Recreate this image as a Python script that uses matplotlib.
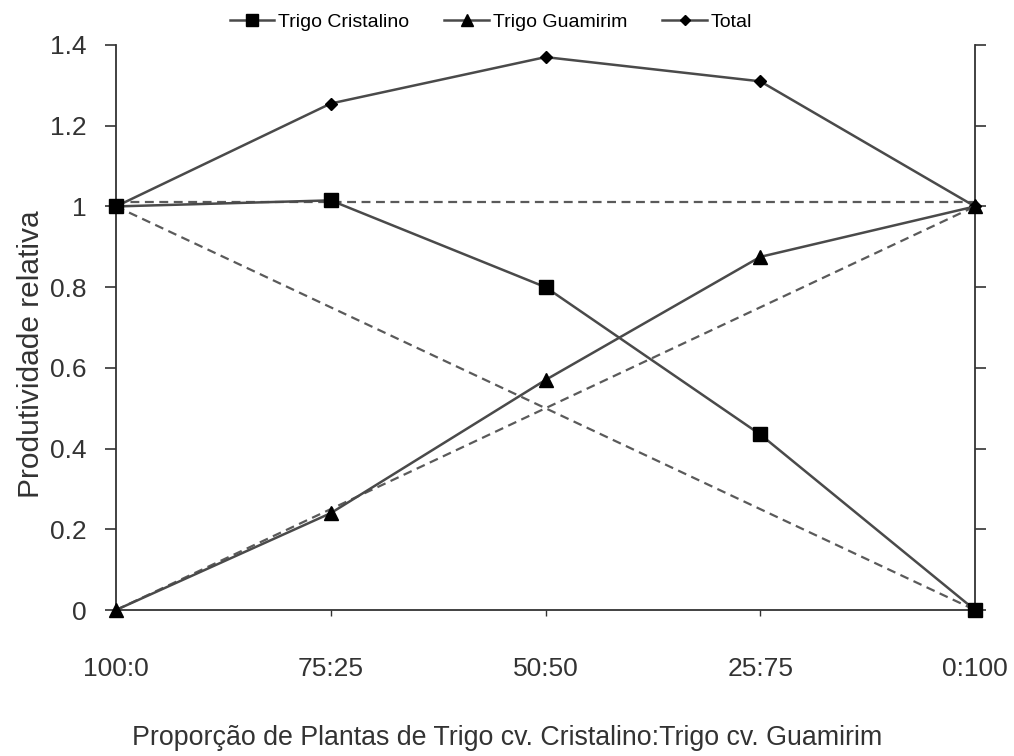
import numpy as np
import matplotlib.pyplot as plt
from matplotlib.ticker import FuncFormatter

plt.rcParams['font.family'] = ['Liberation Sans', 'DejaVu Sans']

# Data
proporcoes = ["100:0", "75:25", "50:50", "25:75", "0:100"]
cristalino = [1.0, 1.015, 0.80, 0.435, 0.0]
guamirim = [0.0, 0.24, 0.57, 0.875, 1.0]
total = [1.0, 1.255, 1.37, 1.31, 1.0]
# expected (no-interaction) reference lines
esperado_cristalino = [1.0, 0.75, 0.5, 0.25, 0.0]
esperado_guamirim = [0.0, 0.25, 0.5, 0.75, 1.0]
esperado_total = [1.01, 1.01, 1.01, 1.01, 1.01]

x = np.arange(len(proporcoes))
line_col = '#4a4a4a'
dash_col = '#5a5a5a'

fig = plt.figure(figsize=(10.14, 7.56), dpi=100)
ax = fig.add_axes([116 / 1014, 1 - 610 / 756, (975 - 116) / 1014, (610 - 45) / 756])

# dashed reference lines
for ref in (esperado_cristalino, esperado_guamirim, esperado_total):
    ax.plot(x, ref, linestyle=(0, (4, 2.5)), color=dash_col, linewidth=1.6, zorder=2)

l3, = ax.plot(x, total, '-D', color=line_col, mfc='black', mec='black',
              markersize=6.5, linewidth=1.8, label='Total', zorder=3, clip_on=False)
l2, = ax.plot(x, guamirim, '-^', color=line_col, mfc='black', mec='black',
              markersize=10, linewidth=1.8, label='Trigo Guamirim', zorder=4, clip_on=False)
l1, = ax.plot(x, cristalino, '-s', color=line_col, mfc='black', mec='black',
              markersize=10, linewidth=1.8, label='Trigo Cristalino', zorder=5, clip_on=False)

ax.set_xlim(0, 4)
ax.set_ylim(0, 1.4)
ax.set_xticks(x)
ax.set_xticklabels(proporcoes)
ax.set_yticks(np.arange(0, 1.41, 0.2))
ax.yaxis.set_major_formatter(FuncFormatter(lambda v, p: f"{v:g}"))

ax.spines['top'].set_visible(False)
for s in ('left', 'right', 'bottom'):
    ax.spines[s].set_color('#333333')
    ax.spines[s].set_linewidth(1.3)

ax.tick_params(axis='y', which='both', left=True, right=True, direction='out',
               length=8, width=1.2, color='#333333', labelsize=19, pad=13,
               labelcolor='#333333')
ax.tick_params(axis='x', direction='out', length=4, width=1, color='#333333',
               labelsize=19, pad=30, labelcolor='#333333')

ax.set_ylabel('Produtividade relativa', fontsize=21.5, color='#333333', labelpad=4)
ax.yaxis.label.set_y((610 - 354) / 565)
fig.text(507 / 1014, 1 - 738 / 756, 'Proporção de Plantas de Trigo cv. Cristalino:Trigo cv. Guamirim',
         ha='center', va='center', fontsize=19.3, color='#333333')

fig.legend(handles=[l1, l2, l3], loc='center', bbox_to_anchor=(491 / 1014, 1 - 22 / 756),
           ncol=3, frameon=False, fontsize=14, handlelength=2.3, handletextpad=0.2,
           columnspacing=1.8, markerscale=0.8)

fig.savefig('out.png', dpi=100)
